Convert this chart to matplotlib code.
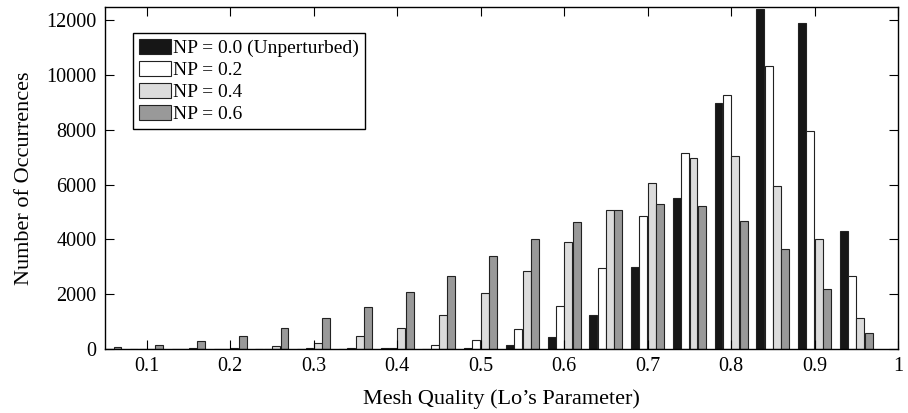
import numpy as np
import matplotlib
matplotlib.use("Agg")
import matplotlib.pyplot as plt

plt.rcParams['font.family'] = ['Liberation Serif', 'DejaVu Serif']
plt.rcParams['font.size'] = 14.5

# bin centres (Lo's parameter)
centers = [0.05, 0.10, 0.15, 0.20, 0.25, 0.30, 0.35, 0.40, 0.45, 0.50,
           0.55, 0.60, 0.65, 0.70, 0.75, 0.80, 0.85, 0.90, 0.95]

np00 = [0, 0, 0, 0, 0, 0, 0, 20, 0, 40,
        160, 440, 1255, 2985, 5510, 8995, 12430, 11910, 4325]
np02 = [0, 0, 0, 10, 10, 30, 20, 40, 135, 340,
        735, 1570, 2960, 4850, 7140, 9285, 10350, 7945, 2660]
np04 = [0, 5, 25, 40, 95, 210, 465, 780, 1255, 2045,
        2850, 3920, 5070, 6080, 6985, 7055, 5950, 4020, 1120]
np06 = [70, 150, 290, 490, 780, 1130, 1525, 2070, 2680, 3410,
        4010, 4630, 5070, 5300, 5230, 4670, 3645, 2195, 600]

labels = ['NP = 0.0 (Unperturbed)', 'NP = 0.2', 'NP = 0.4', 'NP = 0.6']
colors = ['#161616', '#ffffff', '#dcdcdc', '#999999']

xticks = [0.1, 0.2, 0.3, 0.4, 0.5, 0.6, 0.7, 0.8, 0.9, 1.0]
xticklabels = ['0.1', '0.2', '0.3', '0.4', '0.5', '0.6', '0.7', '0.8', '0.9', '1']
yticks = [0, 2000, 4000, 6000, 8000, 10000, 12000]

fig = plt.figure(figsize=(9.08, 4.13), dpi=100)
ax = fig.add_axes([105/908, 64/413, 793/908, 342/413])

w = 0.0095
offsets = [-0.015, -0.005, 0.005, 0.015]
x = np.array(centers)
for vals, off, c, lab in zip([np00, np02, np04, np06], offsets, colors, labels):
	ax.bar(x + off, vals, width=w, color=c, edgecolor='#222222', linewidth=0.8, label=lab)

ax.set_xlim(0.05, 1.0)
ax.set_ylim(0, 12490)
ax.set_xticks(xticks)
ax.set_xticklabels(xticklabels)
ax.set_yticks(yticks)
ax.tick_params(direction='in', length=6.5, width=0.8, top=True, right=True, pad=6)
for s in ax.spines.values():
	s.set_linewidth(1.0)

ax.set_xlabel('Mesh Quality (Lo\u2019s Parameter)', fontsize=16, labelpad=9)
ax.set_ylabel('Number of Occurrences', fontsize=16, labelpad=9)

leg = ax.legend(loc='upper left', bbox_to_anchor=(0.0353, 0.924), borderaxespad=0,
                fancybox=False, framealpha=1, edgecolor='black', fontsize=14,
                handlelength=1.65, handleheight=0.85, handletextpad=0.1,
                labelspacing=0.18, borderpad=0.3)
leg.get_frame().set_linewidth(1.0)

fig.savefig('out.png', dpi=100)
